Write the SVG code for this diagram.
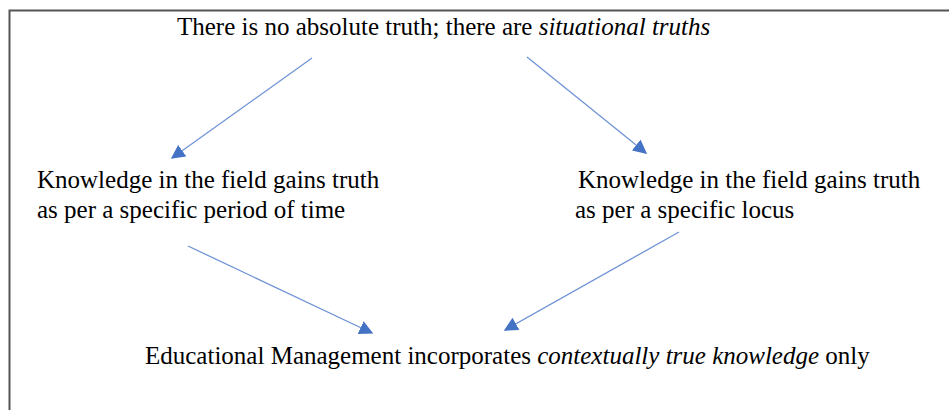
<svg xmlns="http://www.w3.org/2000/svg" width="949" height="410" viewBox="0 0 949 410">
<style>
text{font-family:"Liberation Serif","Times New Roman",serif;font-size:25px;fill:#000}
.i{font-style:italic}
.c{stroke:#6f93d6;stroke-width:1.3;fill:none;marker-end:url(#ah)}
</style>
<defs>
<marker id="ah" viewBox="0 0 10 10" refX="9" refY="5" markerWidth="14" markerHeight="14" markerUnits="userSpaceOnUse" orient="auto">
<path d="M0,0L10,5L0,10z" fill="#4472c4"/>
</marker>
</defs>
<rect width="949" height="410" fill="#fff"/>
<path d="M9.5,410V10.5H949" fill="none" stroke="#555" stroke-width="2"/>
<g id="top"><text x="177" y="35">There is no absolute truth; there are <tspan class="i">situational truths</tspan></text></g>
<g id="left"><text x="37" y="188">Knowledge in the field gains truth</text><text x="37" y="218">as per a specific period of time</text></g>
<g id="right"><text x="578" y="188">Knowledge in the field gains truth</text><text x="575" y="218">as per a specific locus</text></g>
<g id="bottom"><text x="145" y="364">Educational Management incorporates <tspan class="i">contextually true knowledge</tspan> only</text></g>
<g id="connectors">
<line class="c" x1="312" y1="58" x2="172" y2="158"/>
<line class="c" x1="527" y1="57" x2="646" y2="153"/>
<line class="c" x1="188" y1="246" x2="372" y2="333"/>
<line class="c" x1="679" y1="232" x2="505" y2="330"/>
</g>
</svg>
